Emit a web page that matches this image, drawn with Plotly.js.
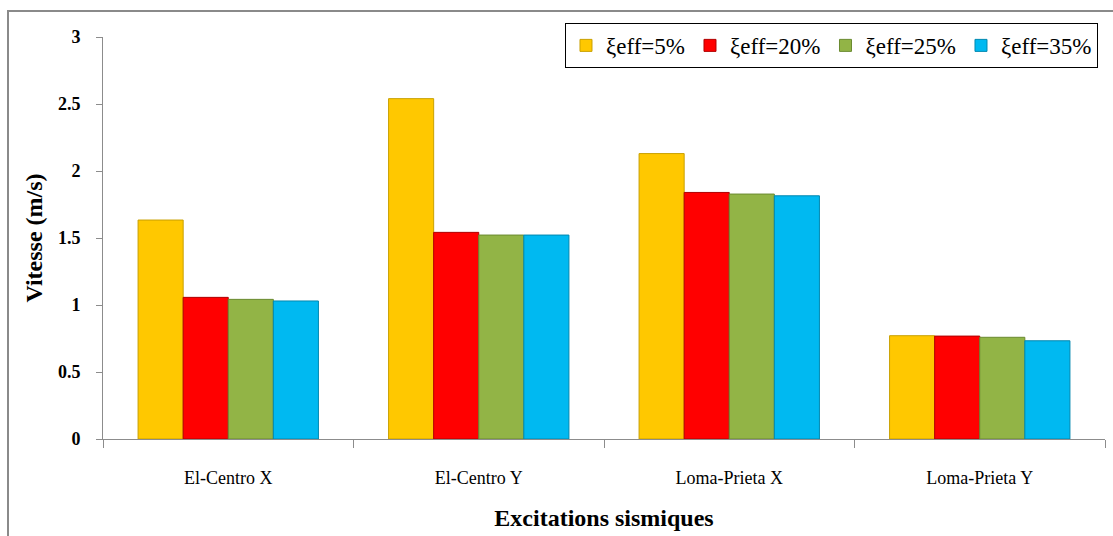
<!DOCTYPE html>
<html>
<head>
<meta charset="utf-8">
<script src="https://cdn.plot.ly/plotly-3.0.1.min.js"></script>
<style>
html,body{margin:0;padding:0;background:#fff;}
#chart{width:1113px;height:536px;position:absolute;left:0;top:0;}
#frame{position:absolute;left:7px;top:10px;width:1106px;height:526px;border-left:2px solid #8a8a8a;border-top:2px solid #8a8a8a;pointer-events:none;}
</style>
</head>
<body>
<div id="chart"></div>
<div id="frame"></div>
<script>
const categories = ["El-Centro X", "El-Centro Y", "Loma-Prieta X", "Loma-Prieta Y"];
const seriesNames = ["ξeff=5%", "ξeff=20%", "ξeff=25%", "ξeff=35%"];
const xi5  = [1.634, 2.54, 2.13, 0.771];
const xi20 = [1.057, 1.542, 1.84, 0.768];
const xi25 = [1.042, 1.522, 1.828, 0.759];
const xi35 = [1.03, 1.522, 1.815, 0.733];
const yTickVals = [0, 0.5, 1, 1.5, 2, 2.5, 3];
const yTickText = ["0", "0.5", "1", "1.5", "2", "2.5", "3"];

const fills = ["#FFC800", "#FF0000", "#92B446", "#00B9F1"];
const edges = ["#C9A000", "#B00000", "#6A8A30", "#0088B0"];
const values = [xi5, xi20, xi25, xi35];

const traces = values.map((v, i) => ({
  type: "bar",
  name: seriesNames[i],
  x: categories,
  y: v,
  marker: {color: fills[i], line: {color: edges[i], width: 1}},
  hoverinfo: "x+y"
}));

const serif = "Times New Roman";
const layout = {
  width: 1113, height: 536,
  margin: {l: 103, r: 8, t: 37, b: 97},
  paper_bgcolor: "rgba(0,0,0,0)",
  plot_bgcolor: "#fff",
  font: {family: serif, color: "#000"},
  barmode: "group",
  bargap: 0.28,
  bargroupgap: 0,
  showlegend: true,
  legend: {
    orientation: "h",
    x: 0.993, xanchor: "right",
    y: 1.035, yanchor: "top",
    bordercolor: "#000", borderwidth: 1,
    bgcolor: "#fff",
    font: {family: serif, size: 23, color: "#000"},
    traceorder: "normal",
    itemwidth: 30
  },
  xaxis: {
    type: "category",
    showline: true, linecolor: "#8c8c8c", linewidth: 1,
    ticks: "outside", tickson: "boundaries", ticklen: 8, tickcolor: "#8c8c8c",
    ticklabelstandoff: 22,
    tickfont: {family: serif, size: 18, color: "#000"},
    title: {text: "Excitations sismiques", font: {family: serif, size: 24, color: "#000", weight: "bold"}, standoff: 22},
    showgrid: false, zeroline: false, fixedrange: true
  },
  yaxis: {
    range: [0, 3],
    tickvals: yTickVals, ticktext: yTickText,
    showline: true, linecolor: "#8c8c8c", linewidth: 1,
    ticks: "outside", ticklen: 6, tickcolor: "#8c8c8c",
    ticklabelstandoff: 12,
    tickfont: {family: serif, size: 18, color: "#000", weight: "bold"},
    title: {text: "Vitesse (m/s)", font: {family: serif, size: 24, color: "#000", weight: "bold"}, standoff: 8},
    showgrid: false, zeroline: false, fixedrange: true
  }
};

Plotly.newPlot("chart", traces, layout, {displayModeBar: false, staticPlot: true});
</script>
</body>
</html>
